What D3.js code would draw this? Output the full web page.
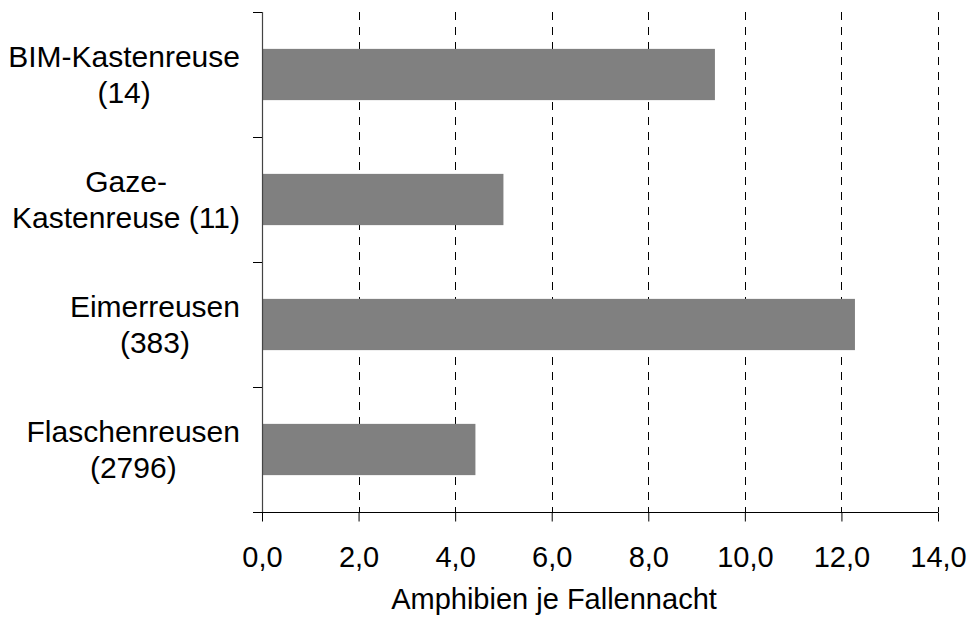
<!DOCTYPE html>
<html><head><meta charset="utf-8">
<script src="https://cdn.jsdelivr.net/npm/d3@7/dist/d3.min.js"></script>
<style>
body{margin:0;background:#fff;}
text{font-family:"Liberation Sans",Arial,sans-serif;fill:#000;}
</style></head>
<body>
<svg id="chart" width="969" height="618"></svg>
<script>
const categories = ["BIM-Kastenreuse (14)", "Gaze-Kastenreuse (11)", "Eimerreusen (383)", "Flaschenreusen (2796)"];
const labelLines = [["BIM-Kastenreuse", "(14)"], ["Gaze-", "Kastenreuse (11)"], ["Eimerreusen", "(383)"], ["Flaschenreusen", "(2796)"]];
const values = [9.38, 5.0, 12.28, 4.42];
const xTicks = [0, 2, 4, 6, 8, 10, 12, 14];
const xTitle = "Amphibien je Fallennacht";

const svg = d3.select("#chart");
const mLeft = 262, mRight = 938, mTop = 12, mBottom = 512;

const x = d3.scaleLinear().domain([0, 14]).range([mLeft, mRight]);
const y = d3.scaleBand().domain(categories).range([mTop, mBottom]).paddingInner(0.59).paddingOuter(0.295);

// gridlines
svg.append("g").selectAll("line").data(xTicks.filter(d => d > 0)).join("line")
  .attr("x1", d => Math.round(x(d)) + 0.5).attr("x2", d => Math.round(x(d)) + 0.5)
  .attr("y1", mTop).attr("y2", mBottom)
  .attr("stroke", "#000").attr("stroke-width", 1).attr("stroke-dasharray", "8,7");

// bars
svg.append("g").selectAll("rect").data(values).join("rect")
  .attr("x", x(0)).attr("y", (d, i) => y(categories[i]))
  .attr("width", d => x(d) - x(0)).attr("height", y.bandwidth())
  .attr("fill", "#808080");

// x axis
const xAxis = d3.axisBottom(x).tickValues(xTicks).tickSize(9).tickPadding(25)
  .tickFormat(d => d3.format(".1f")(d).replace(".", ","));
const gx = svg.append("g").attr("transform", `translate(0,${mBottom + 0.5})`).call(xAxis);
gx.select(".domain").attr("d", `M${mLeft - 9},0H${mRight}`).attr("stroke", "#000");
gx.selectAll(".tick line").attr("stroke", "#000");
gx.selectAll(".tick text").attr("font-size", 29).attr("font-family", "Liberation Sans, Arial, sans-serif").attr("fill", "#000");

// y axis line and ticks at band boundaries
const bounds = [0, 1, 2, 3, 4].map(i => mTop + i * y.step());
svg.append("line").attr("x1", mLeft + 0.5).attr("x2", mLeft + 0.5).attr("y1", mTop).attr("y2", mBottom)
  .attr("stroke", "#444").attr("stroke-width", 1.2);
svg.append("g").selectAll("line").data(bounds.slice(0, 4)).join("line")
  .attr("x1", mLeft - 9).attr("x2", mLeft).attr("y1", d => Math.round(d) + 0.5).attr("y2", d => Math.round(d) + 0.5)
  .attr("stroke", "#000");

// category labels: each two-line block centered, block right edge at x=240
const lab = svg.append("g");
categories.forEach((c, i) => {
  const cy = y(c) + y.bandwidth() / 2;
  const t = lab.append("text").attr("text-anchor", "middle").attr("font-size", 30);
  const s1 = t.append("tspan").attr("y", cy - 8).text(labelLines[i][0]);
  const s2 = t.append("tspan").attr("y", cy + 28).text(labelLines[i][1]);
  const w = Math.max(s1.node().getComputedTextLength(), s2.node().getComputedTextLength());
  const cx = 240 - w / 2;
  s1.attr("x", cx); s2.attr("x", cx);
});

// x title
svg.append("text").attr("x", 554).attr("y", 609).attr("text-anchor", "middle")
  .attr("font-size", 29).text(xTitle);
</script>
</body></html>
